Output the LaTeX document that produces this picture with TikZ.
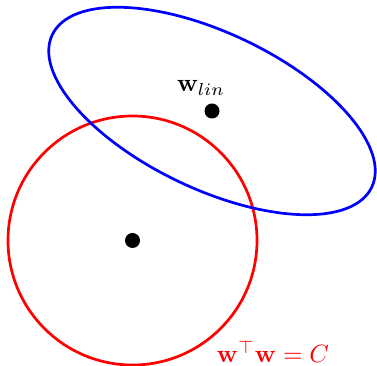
\documentclass[tikz,border=0pt]{standalone}
\usepackage{tikz}
\usetikzlibrary{shapes.geometric, positioning}
\newcommand{\biglbl}[1]{\scalebox{2.5}{#1}}

\begin{document}
\begin{tikzpicture}[
        x=1pt, y=1pt,
        curve/.style={draw, line width=2.7pt, inner sep=0pt, fill=none},
        dot/.style={circle, fill=black, inner sep=0pt, minimum size=15pt},
        lbl/.style={inner sep=0pt}
    ]
        \useasboundingbox (0,0) rectangle (377,366);

        \node[curve, circle, draw=red, minimum size=249pt] (ball) at (132.5,125.5) {};
        \node[curve, ellipse, draw=blue, minimum width=354pt, minimum height=156pt, rotate=-25.5] (loss) at (212,255) {};

        \node[dot] (origin) at (ball.center) {};
        \node[dot] (wlin) at (loss.center) {};

        \node[lbl] (wlinlbl) at (201,278) {\biglbl{$\mathbf{w}_{lin}$}};
        \node[lbl, text=red] (constr) at (273,14) {\biglbl{$\mathbf{w}^{\top}\mathbf{w}=C$}};
    \end{tikzpicture}
\end{document}
